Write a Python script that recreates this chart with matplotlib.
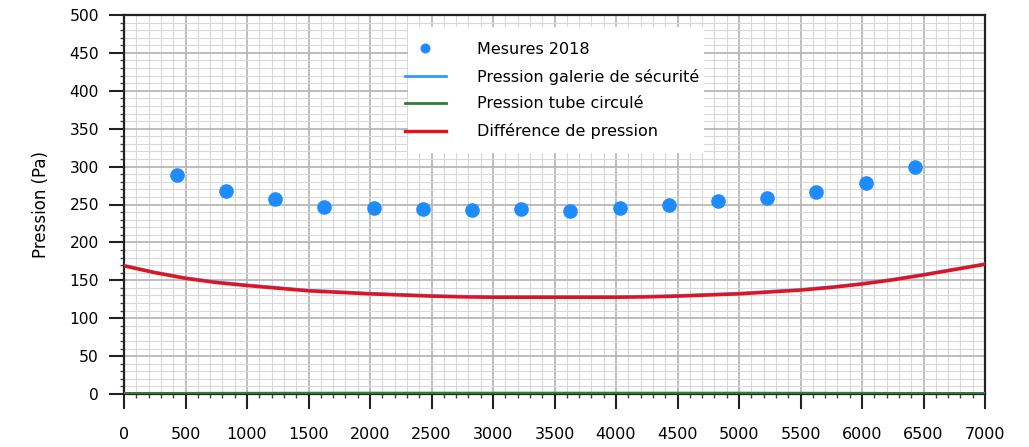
import numpy as np
import matplotlib.pyplot as plt
from matplotlib.ticker import MultipleLocator
from matplotlib.patches import Rectangle

plt.rcParams['font.family'] = ['DejaVu Sans']

# mesures 2018 (positions le long du tunnel, pression)
x_mes = [430, 830, 1230, 1630, 2030, 2430, 2830, 3230, 3630, 4030, 4430, 4830, 5230, 5630, 6030, 6430]
p_mes = [289, 268, 257, 247, 246, 244, 243, 244, 241, 245, 249, 254, 258, 266, 279, 300]

# courbes calculees (lues tous les 250 m)
x_calc = [0, 250, 500, 750, 1000, 1250, 1500, 1750, 2000, 2250, 2500, 2750, 3000, 3250, 3500,
          3750, 4000, 4250, 4500, 4750, 5000, 5250, 5500, 5750, 6000, 6250, 6500, 6750, 7000]
p_diff = [169, 160, 152.5, 147, 143, 139.5, 136, 134, 132, 130.5, 129, 128, 127.5, 127.5, 127.5,
          127.5, 127.5, 128, 129, 130.5, 132, 134.5, 137, 140.5, 145, 150.5, 157, 164, 171]
p_galerie = [170, 161, 153.5, 148, 144, 140.5, 137, 135, 133, 131.5, 130, 129, 128.5, 128.5, 128.5,
             128.5, 128.5, 129, 130, 131.5, 133, 135.5, 138, 141.5, 146, 151.5, 158, 165, 172]
p_tube = [0.8, 0.9, 0.9, 1.0, 1.0, 1.1, 1.1, 1.2, 1.2, 1.2, 1.2, 1.2, 1.2, 1.2, 1.2,
          1.2, 1.2, 1.2, 1.2, 1.2, 1.2, 1.1, 1.1, 1.0, 1.0, 0.9, 0.9, 0.8, 0.8]

fig = plt.figure(figsize=(10.29, 4.47), dpi=100)
ax = fig.add_axes([124/1029, 1-394/447, 861/1029, 379/447])

ax.plot(x_mes, p_mes, 'o', color='#1E8BFF', markersize=9.5, label='Mesures 2018', zorder=5)
ax.plot(x_calc, p_galerie, color='#3399FF', lw=2, label='Pression galerie de sécurité', zorder=3)
ax.plot(x_calc, p_tube, color='#2E7D3A', lw=2, label='Pression tube circulé', zorder=3)
ax.plot(x_calc, p_diff, color='#E8101A', lw=2.4, label='Différence de pression', zorder=4)

ax.set_xlim(0, 7000)
ax.set_ylim(0, 500)
ax.xaxis.set_major_locator(MultipleLocator(500))
ax.xaxis.set_minor_locator(MultipleLocator(100))
ax.yaxis.set_major_locator(MultipleLocator(50))
ax.yaxis.set_minor_locator(MultipleLocator(10))

ax.grid(which='major', color='#b8b8b8', lw=1.3)
ax.grid(which='minor', color='#d8d8d8', lw=0.8)
ax.set_axisbelow(True)

for s in ax.spines.values():
    s.set_linewidth(1.6)
    s.set_color('#222222')

ax.tick_params(which='major', length=11, width=1.5, labelsize=11.2, color='#222222')
ax.tick_params(axis='x', which='major', pad=13, labelsize=11.5)
ax.tick_params(axis='y', which='major', pad=7)
ax.tick_params(which='minor', length=3, width=1, color='#444444')

ax.set_ylabel('Pression (Pa)', fontsize=12, labelpad=14)

# fond blanc de la legende
ax.add_patch(Rectangle((0.330, 0.636), 0.344, 0.332, transform=ax.transAxes,
                       facecolor='white', edgecolor='none', zorder=6))
leg = ax.legend(loc='upper left', bbox_to_anchor=(0.326, 0.93), fontsize=11.5,
                frameon=False, borderpad=0, borderaxespad=0, markerscale=0.65,
                handlelength=2.6, handletextpad=1.9, labelspacing=0.75)
leg.set_zorder(7)

plt.savefig('out.png', dpi=100)
